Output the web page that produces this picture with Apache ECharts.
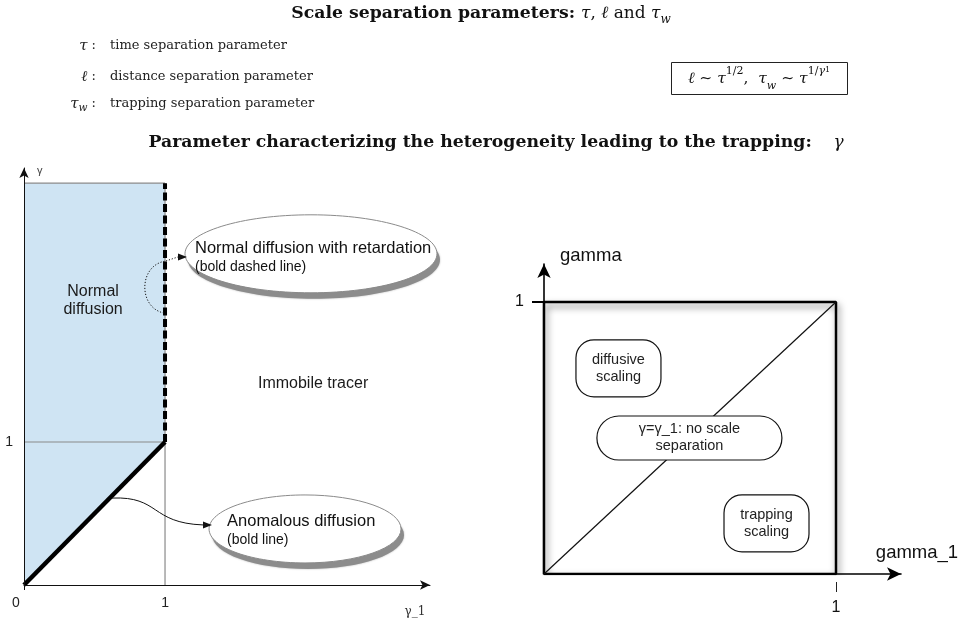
<!DOCTYPE html>
<html>
<head>
<meta charset="utf-8">
<script src="https://cdn.jsdelivr.net/npm/echarts@6/dist/echarts.min.js"></script>
<style>
html, body { margin: 0; padding: 0; background: #fff; }
#main { width: 962px; height: 626px; }
</style>
</head>
<body>
<div id="main"></div>
<script>
// left panel: regimes in the (gamma_1, gamma) plane
var normalRegion = [[0, 0], [0, 2.81], [1, 2.81], [1, 1]];
var anomalousLine = [[0, 0], [1, 1]];
var retardationLine = [[1, 1], [1, 2.81]];
var guideTop = [[0, 2.81], [1, 2.81]];
var guideOne = [[0, 1], [1, 1]];
var guideRight = [[1, 0], [1, 2.81]];
var leftXTicks = [0, 1];
var leftYTicks = [1];

// right panel: unit square split by gamma = gamma_1
var unitSquare = [[0, 0], [0, 1], [1, 1], [1, 0], [0, 0]];
var diagonal = [[0, 0], [1, 1]];
var rightXTicks = [1];
var rightYTicks = [1];

// annotations (anchored in data units)
var leftNotes = [
  { text: 'Normal\ndiffusion', at: [0.49, 1.99] },
  { text: 'Immobile tracer', at: [2.05, 1.41] }
];
var bubbles = [
  { at: [2.035, 2.316], rx: 126, ry: 39, title: 'Normal diffusion with retardation', sub: '(bold dashed line)', dx: -116, dy1: -5, dy2: 13 },
  { at: [1.993, 0.392], rx: 96, ry: 34, title: 'Anomalous diffusion', sub: '(bold line)', dx: -78, dy1: -7, dy2: 11 }
];
var pointers = [
  { from: [0.993, 1.902], cp1: [0.809, 1.937], cp2: [0.809, 2.238], to: [1.007, 2.266], tail: [1.092, 2.294], tip: [1.156, 2.294], dotted: true },
  { from: [0.624, 0.608], cp1: [0.965, 0.622], cp2: [0.894, 0.434], to: [1.27, 0.42], tail: [1.27, 0.42], tip: [1.333, 0.42], dotted: false }
];
var rightBoxes = [
  { at: [0.255, 0.756], w: 85, h: 57, r: 18, text: 'diffusive\nscaling' },
  { at: [0.498, 0.5], w: 185, h: 44, r: 22, text: 'γ=γ_1: no scale\nseparation' },
  { at: [0.762, 0.186], w: 85, h: 57, r: 18, text: 'trapping\nscaling' }
];

var SANS = 'Liberation Sans, Arial, Helvetica, sans-serif';
var SERIF = 'DejaVu Serif, serif';

var chart = echarts.init(document.getElementById('main'));

function lineSeries(data, xi, yi, style, z) {
  return {
    type: 'line', xAxisIndex: xi, yAxisIndex: yi, data: data,
    showSymbol: false, symbol: 'none', silent: true, z: z,
    lineStyle: style
  };
}

var option = {
  animation: false,
  grid: [
    { left: 24, top: 168, width: 406, height: 417 },
    { left: 544, top: 264, width: 357, height: 310 }
  ],
  xAxis: [
    {
      gridIndex: 0, type: 'value', min: 0, max: 2.879, z: 4,
      splitLine: { show: false },
      axisLine: { lineStyle: { color: '#111', width: 1 }, symbol: ['none', 'arrow'], symbolSize: [7, 10] },
      axisTick: { customValues: [0], length: 5, lineStyle: { color: '#111' } },
      axisLabel: {
        customValues: leftXTicks, margin: 11, fontFamily: SANS, fontSize: 14, color: '#222',
        formatter: function (v) { return v === 0 ? '{o|0}' : String(v); },
        rich: { o: { fontFamily: SANS, fontSize: 14, color: '#222', padding: [0, 16, 0, 0] } }
      },
      name: 'γ_1', nameLocation: 'end', nameGap: -15,
      nameTextStyle: { fontFamily: SERIF, fontSize: 12, color: '#333', align: 'center', verticalAlign: 'top', padding: [21, 0, 0, 0] }
    },
    {
      gridIndex: 1, type: 'value', min: 0, max: 1.2226,
      splitLine: { show: false },
      axisLine: { lineStyle: { color: '#000', width: 1.6 }, symbol: ['none', 'arrow'], symbolSize: [10, 14] },
      axisTick: { show: false },
      axisLabel: { customValues: rightXTicks, margin: 26, fontFamily: SANS, fontSize: 16, color: '#111' },
      name: 'gamma_1', nameLocation: 'end', nameGap: 16,
      nameTextStyle: { fontFamily: SANS, fontSize: 18.5, color: '#111', align: 'center', verticalAlign: 'bottom', padding: [0, 0, 12, 0] }
    },
    {
      gridIndex: 1, type: 'value', min: 0, max: 1.2226, position: 'bottom', offset: 8,
      splitLine: { show: false },
      axisLine: { show: false },
      axisTick: { customValues: rightXTicks, length: 10, lineStyle: { color: '#222', width: 1 } },
      axisLabel: { show: false }
    }
  ],
  yAxis: [
    {
      gridIndex: 0, type: 'value', min: 0, max: 2.916, z: 4,
      splitLine: { show: false },
      axisLine: { lineStyle: { color: '#111', width: 1 }, symbol: ['none', 'arrow'], symbolSize: [7, 10] },
      axisTick: { show: false },
      axisLabel: { customValues: leftYTicks, margin: 11, fontFamily: SANS, fontSize: 14, color: '#222' },
      name: 'γ', nameLocation: 'end', nameGap: -3,
      nameTextStyle: { fontFamily: SANS, fontSize: 11, color: '#444', align: 'left', verticalAlign: 'middle', padding: [0, 0, 0, 13] }
    },
    {
      gridIndex: 1, type: 'value', min: 0, max: 1.1397,
      splitLine: { show: false },
      axisLine: { lineStyle: { color: '#000', width: 1.6 }, symbol: ['none', 'arrow'], symbolSize: [10, 14] },
      axisTick: { customValues: rightYTicks, length: 12, lineStyle: { color: '#000', width: 2 } },
      axisLabel: { customValues: rightYTicks, margin: 20, fontFamily: SANS, fontSize: 16, color: '#111' },
      name: 'gamma', nameLocation: 'end', nameGap: 8,
      nameTextStyle: { fontFamily: SANS, fontSize: 18.5, color: '#111', align: 'left', verticalAlign: 'middle', padding: [0, 0, 0, 16] }
    }
  ],
  series: [
    {
      type: 'custom', xAxisIndex: 0, yAxisIndex: 0, data: normalRegion,
      encode: { x: 0, y: 1 }, silent: true, z: 1,
      renderItem: function (params, api) {
        if (params.dataIndex !== 0) return null;
        var pts = normalRegion.map(function (p) { return api.coord(p); });
        return { type: 'polygon', shape: { points: pts }, style: { fill: '#cfe4f3' } };
      }
    },
    lineSeries(guideTop, 0, 0, { color: '#8a8a8a', width: 1.2 }, 2),
    lineSeries(guideOne, 0, 0, { color: '#8a8a8a', width: 1.2 }, 2),
    lineSeries(guideRight, 0, 0, { color: '#8a8a8a', width: 1.2 }, 2),
    lineSeries(retardationLine, 0, 0, { color: '#000', width: 4, type: [8, 3.5] }, 3),
    lineSeries(anomalousLine, 0, 0, { color: '#000', width: 4.5 }, 3),
    lineSeries(unitSquare, 1, 1, {
      color: '#000', width: 2.5,
      shadowColor: 'rgba(0,0,0,0.55)', shadowBlur: 7, shadowOffsetX: 2, shadowOffsetY: 4
    }, 2),
    lineSeries(diagonal, 1, 1, { color: '#111', width: 1.2 }, 3)
  ]
};

chart.setOption(option);

function toPx(gi, p) {
  return chart.convertToPixel(gi === 0 ? { xAxisIndex: 0, yAxisIndex: 0 } : { xAxisIndex: 1, yAxisIndex: 1 }, p);
}

function arrowHead(from, tip, len, half) {
  var dx = tip[0] - from[0], dy = tip[1] - from[1];
  var d = Math.sqrt(dx * dx + dy * dy) || 1;
  dx /= d; dy /= d;
  var bx = tip[0] - dx * len, by = tip[1] - dy * len;
  return [tip, [bx - dy * half, by + dx * half], [bx + dy * half, by - dx * half]];
}

var g = [];

// header
var serifRich = {
  b: { fontFamily: SERIF, fontWeight: 'bold', fontSize: 17.3, lineHeight: 24 },
  n: { fontFamily: SERIF, fontSize: 17, lineHeight: 24 },
  i: { fontFamily: SERIF, fontStyle: 'italic', fontSize: 17, lineHeight: 24 },
  s: { fontFamily: SERIF, fontStyle: 'italic', fontSize: 12, lineHeight: 18, verticalAlign: 'bottom' }
};
g.push({
  type: 'text', x: 481, y: 14, z: 20,
  style: { text: '{b|Scale separation parameters: }{i|τ}{n|, }{i|ℓ}{n| and }{i|τ}{s|w}', rich: serifRich, fill: '#111', align: 'center', verticalAlign: 'middle' }
});
g.push({
  type: 'text', x: 496, y: 143, z: 20,
  style: { text: '{b|Parameter characterizing the heterogeneity leading to the trapping:}{n|    }{i|γ}', rich: serifRich, fill: '#111', align: 'center', verticalAlign: 'middle' }
});

var bodyRich = {
  n: { fontFamily: SERIF, fontSize: 13, lineHeight: 20 },
  i: { fontFamily: SERIF, fontStyle: 'italic', fontSize: 15, lineHeight: 20 },
  s: { fontFamily: SERIF, fontStyle: 'italic', fontSize: 10.5, lineHeight: 15, verticalAlign: 'bottom' }
};
var defs = [
  ['{i|τ}{n| :}', 'time separation parameter', 46],
  ['{i|ℓ}{n| :}', 'distance separation parameter', 77],
  ['{i|τ}{s|w}{n| :}', 'trapping separation parameter', 104]
];
defs.forEach(function (d) {
  g.push({ type: 'text', x: 96, y: d[2], z: 20, style: { text: d[0], rich: bodyRich, fill: '#222', align: 'right', verticalAlign: 'middle' } });
  g.push({ type: 'text', x: 110, y: d[2], z: 20, style: { text: d[1], fontFamily: SERIF, fontSize: 13, fill: '#222', align: 'left', verticalAlign: 'middle' } });
});

g.push({ type: 'rect', z: 20, shape: { x: 671.5, y: 62.5, width: 176, height: 32 }, style: { fill: 'none', stroke: '#222', lineWidth: 1 } });
g.push({
  type: 'text', x: 759, y: 79, z: 20,
  style: {
    text: '{i|ℓ}{n| ∼ }{i|τ}{sup|1/2}{n|,  }{i|τ}{sub|w}{n| ∼ }{i|τ}{sup|1/}{supi|γ}{supsub|1}',
    fill: '#111', align: 'center', verticalAlign: 'middle',
    rich: {
      n: { fontFamily: SERIF, fontSize: 15.5, lineHeight: 26 },
      i: { fontFamily: SERIF, fontStyle: 'italic', fontSize: 15.5, lineHeight: 26 },
      sup: { fontFamily: SERIF, fontSize: 11, lineHeight: 14, verticalAlign: 'top' },
      supi: { fontFamily: SERIF, fontStyle: 'italic', fontSize: 11, lineHeight: 14, verticalAlign: 'top' },
      supsub: { fontFamily: SERIF, fontSize: 8, lineHeight: 22, verticalAlign: 'top' },
      sub: { fontFamily: SERIF, fontStyle: 'italic', fontSize: 11, lineHeight: 18, verticalAlign: 'bottom' }
    }
  }
});

// left panel notes
leftNotes.forEach(function (n) {
  var c = toPx(0, n.at);
  g.push({ type: 'text', x: c[0], y: c[1], z: 20, style: { text: n.text, fontFamily: SANS, fontSize: 16, lineHeight: 18, fill: '#1a1a1a', align: 'center', verticalAlign: 'middle' } });
});

bubbles.forEach(function (b) {
  var c = toPx(0, b.at);
  // offset grey copy acts as the drop shadow
  g.push({
    type: 'ellipse', z: 17, shape: { cx: c[0] + 3, cy: c[1] + 6, rx: b.rx, ry: b.ry },
    style: { fill: '#8c8c8c', stroke: 'none', shadowColor: 'rgba(0,0,0,0.3)', shadowBlur: 2 }
  });
  g.push({
    type: 'ellipse', z: 18, shape: { cx: c[0], cy: c[1], rx: b.rx, ry: b.ry },
    style: { fill: '#fff', stroke: '#8a8a8a', lineWidth: 1 }
  });
  g.push({ type: 'text', z: 19, x: c[0] + b.dx, y: c[1] + b.dy1, style: { text: b.title, fontFamily: SANS, fontSize: 16.5, fill: '#111', align: 'left', verticalAlign: 'middle' } });
  g.push({ type: 'text', z: 19, x: c[0] + b.dx, y: c[1] + b.dy2, style: { text: b.sub, fontFamily: SANS, fontSize: 14, fill: '#111', align: 'left', verticalAlign: 'middle' } });
});

pointers.forEach(function (p) {
  var a = toPx(0, p.from), c1 = toPx(0, p.cp1), c2 = toPx(0, p.cp2), b = toPx(0, p.to);
  var t = toPx(0, p.tail), tip = toPx(0, p.tip);
  var ls = { stroke: '#111', lineWidth: 1, fill: 'none', lineDash: p.dotted ? [1.2, 1.8] : null };
  g.push({ type: 'bezierCurve', z: 16, shape: { x1: a[0], y1: a[1], cpx1: c1[0], cpy1: c1[1], cpx2: c2[0], cpy2: c2[1], x2: b[0], y2: b[1] }, style: ls });
  if (p.dotted) {
    g.push({ type: 'line', z: 16, shape: { x1: b[0], y1: b[1], x2: t[0], y2: t[1] }, style: ls });
  }
  g.push({ type: 'polygon', z: 19, shape: { points: arrowHead(t, tip, 9, 3.5) }, style: { fill: '#111' } });
});

// right panel boxes
rightBoxes.forEach(function (r) {
  var c = toPx(1, r.at);
  g.push({
    type: 'rect', z: 18, shape: { x: c[0] - r.w / 2, y: c[1] - r.h / 2, width: r.w, height: r.h, r: r.r },
    style: { fill: '#fff', stroke: '#111', lineWidth: 1.2 }
  });
  g.push({ type: 'text', z: 19, x: c[0], y: c[1], style: { text: r.text, fontFamily: SANS, fontSize: 14.5, lineHeight: 17, fill: '#222', align: 'center', verticalAlign: 'middle' } });
});

chart.setOption({ graphic: { elements: g } });
</script>
</body>
</html>
